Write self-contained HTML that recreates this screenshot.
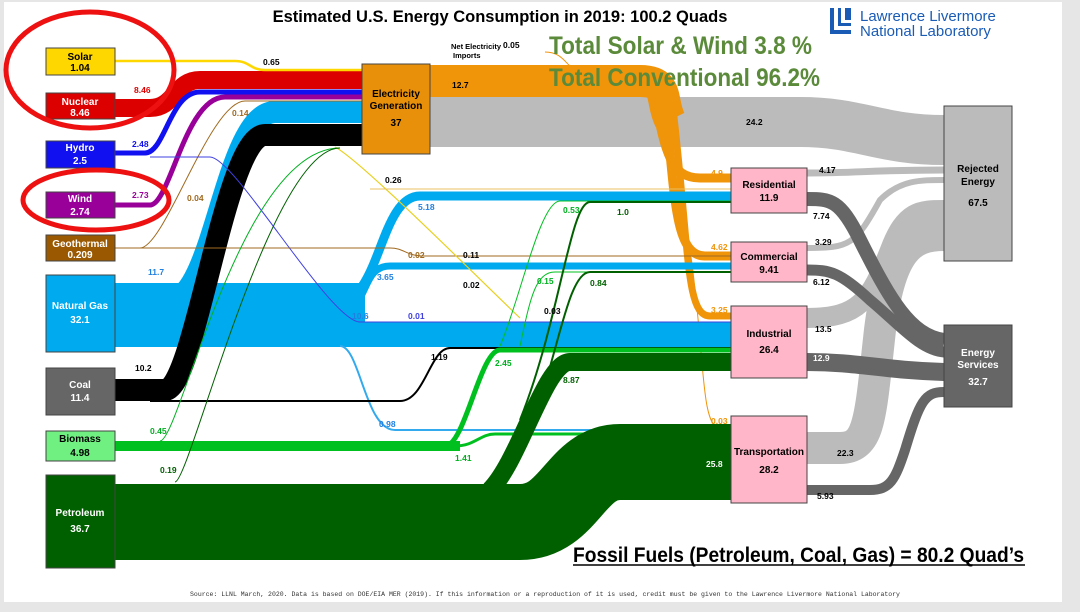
<!DOCTYPE html>
<html><head><meta charset="utf-8"><style>
body{margin:0;background:#e6e6e6;}
svg{display:block;font-family:"Liberation Sans",Arial,sans-serif;}
</style></head><body>
<svg width="1080" height="612" viewBox="0 0 1080 612" xmlns="http://www.w3.org/2000/svg">
<rect x="0" y="0" width="1080" height="612" fill="#e6e6e6"/>
<rect x="4" y="2" width="1058" height="600" fill="#fff"/>

<!-- gray flows to rejected -->
<path d="M430,122 L800,122 C860,122 880,140 944,140" stroke="#bbb" stroke-width="50" fill="none"/>
<path d="M807,173 C860,173 870,170 944,170" stroke="#bbb" stroke-width="7" fill="none"/>
<path d="M807,248 C850,248 855,245 880,200 C900,180 920,180 944,180" stroke="#bbb" stroke-width="6" fill="none"/>
<path d="M807,318 C860,318 870,300 890,250 C905,210 920,210 944,210" stroke="#bbb" stroke-width="20" fill="none"/>
<path d="M807,448 L840,448 C870,448 870,420 880,330 C890,250 910,235 944,235" stroke="#bbb" stroke-width="32" fill="none"/>
<!-- dark gray to services -->
<path d="M807,199 C830,199 840,199 860,240 C890,300 910,335 944,340" stroke="#666" stroke-width="14" fill="none"/>
<path d="M807,270 C830,270 840,272 870,300 C900,325 920,350 944,352" stroke="#666" stroke-width="11" fill="none"/>
<path d="M807,362 C860,362 880,370 944,372" stroke="#666" stroke-width="18" fill="none"/>
<path d="M807,490 L870,490 C890,490 895,480 905,450 C920,400 925,392 944,392" stroke="#666" stroke-width="10" fill="none"/>

<!-- electricity outputs orange -->
<path d="M430,81 L640,81 C670,81 660,100 670,120" stroke="#f0940a" stroke-width="32" fill="none"/>
<path d="M655,100 C665,150 670,178 700,178 L731,178" stroke="#f0940a" stroke-width="9" fill="none"/>
<path d="M665,100 C675,200 675,256 705,256 L731,256" stroke="#f0940a" stroke-width="9" fill="none"/>
<path d="M672,100 C690,250 685,316 710,316 L731,316" stroke="#f0940a" stroke-width="7" fill="none"/>
<path d="M690,250 C705,350 700,428 720,428 L731,428" stroke="#f0940a" stroke-width="1" fill="none"/>
<path d="M545,52 C560,52 565,62 570,66" stroke="#f0940a" stroke-width="1" fill="none"/>

<!-- natural gas -->
<path d="M115,300 L170,300 C215,300 225,112 275,112 L362,112" stroke="#00aaee" stroke-width="22" fill="none"/>
<path d="M340,300 C380,300 380,196 420,196 L731,196" stroke="#00aaee" stroke-width="9" fill="none"/>
<path d="M340,310 C370,310 360,266 390,266 L731,266" stroke="#00aaee" stroke-width="7" fill="none"/>
<rect x="115" y="283" width="250" height="64" fill="#00aaee"/>
<rect x="340" y="322" width="391" height="25" fill="#00aaee"/>
<path d="M340,346 C360,346 365,430 395,430 L731,430" stroke="#33aaee" stroke-width="2" fill="none"/>

<!-- coal -->
<path d="M115,390 L165,390 C195,390 225,135 265,135 L362,135" stroke="#000" stroke-width="22" fill="none"/>
<path d="M150,401 L400,401 C425,401 430,348 450,348 L731,348" stroke="#000" stroke-width="2" fill="none"/>

<!-- nuclear, hydro, wind, solar, geo -->
<path d="M115,108 L150,108 C175,108 175,80 200,80 L362,80" stroke="#dd0000" stroke-width="18" fill="none"/>
<path d="M115,153 L145,153 C165,153 170,92 200,92 L362,92" stroke="#1010f0" stroke-width="5" fill="none"/>
<path d="M115,205 L150,205 C170,205 185,97 225,97 L362,97" stroke="#990099" stroke-width="5" fill="none"/>
<path d="M115,61 L235,61 C250,61 250,70 265,70 L362,70" stroke="#ffd700" stroke-width="2.5" fill="none"/>
<path d="M115,248 L140,248 C165,248 210,101 245,101 L362,101" stroke="#a06a20" stroke-width="1" fill="none"/>
<path d="M115,248 L390,248 C405,248 405,256 425,256 L731,256" stroke="#a06a20" stroke-width="1" fill="none"/>
<path d="M150,157 L210,157 C235,157 330,322 360,322 L731,322" stroke="#4040e0" stroke-width="1" fill="none"/>
<path d="M335,147 C360,160 470,270 520,318" stroke="#e8d020" stroke-width="1.2" fill="none"/>
<path d="M370,189 L731,189" stroke="#e8c060" stroke-width="1" fill="none"/>

<!-- biomass -->
<path d="M115,446 L445,446 C465,446 480,350 500,350 L731,350" stroke="#00c020" stroke-width="5" fill="none"/>
<rect x="115" y="441" width="345" height="10" fill="#00c020"/>
<path d="M455,446 C475,446 480,434 495,434 L731,434" stroke="#00c020" stroke-width="3" fill="none"/>
<path d="M160,441 C180,441 240,148 340,148" stroke="#00b020" stroke-width="1" fill="none"/>
<path d="M500,346 C520,300 540,201 560,201 L731,201" stroke="#00c020" stroke-width="1" fill="none"/>
<path d="M520,346 C530,300 535,272 555,272 L731,272" stroke="#00c020" stroke-width="1" fill="none"/>

<!-- petroleum -->
<path d="M115,522 L520,522 C570,522 575,462 620,462 L731,462" stroke="#006000" stroke-width="76" fill="none"/>
<path d="M490,490 C520,460 545,362 570,362 L731,362" stroke="#006000" stroke-width="18" fill="none"/>
<path d="M175,482 C190,482 270,148 340,148" stroke="#006000" stroke-width="1" fill="none"/>
<path d="M520,420 C560,320 570,202 590,202 L731,202" stroke="#006000" stroke-width="2" fill="none"/>
<path d="M540,400 C560,340 570,272 590,272 L731,272" stroke="#006000" stroke-width="2" fill="none"/>

<!-- boxes -->
<g stroke="#444" stroke-width="1">
<rect x="46" y="48" width="69" height="27" fill="#ffd700"/>
<rect x="46" y="93" width="69" height="26" fill="#dd0000"/>
<rect x="46" y="141" width="69" height="27" fill="#1010f0"/>
<rect x="46" y="192" width="69" height="26" fill="#990099"/>
<rect x="46" y="235" width="69" height="26" fill="#9a5800"/>
<rect x="46" y="275" width="69" height="77" fill="#00aaee"/>
<rect x="46" y="368" width="69" height="47" fill="#666"/>
<rect x="46" y="431" width="69" height="30" fill="#70f080"/>
<rect x="46" y="475" width="69" height="93" fill="#006000"/>
<rect x="362" y="64" width="68" height="90" fill="#e8900a"/>
<rect x="731" y="168" width="76" height="45" fill="#ffb6c8"/>
<rect x="731" y="242" width="76" height="40" fill="#ffb6c8"/>
<rect x="731" y="306" width="76" height="72" fill="#ffb6c8"/>
<rect x="731" y="416" width="76" height="87" fill="#ffb6c8"/>
<rect x="944" y="106" width="68" height="155" fill="#bbb"/>
<rect x="944" y="325" width="68" height="82" fill="#666"/>
</g>

<g font-size="10" font-weight="bold" text-anchor="middle">
<text x="80" y="60">Solar</text><text x="80" y="71">1.04</text>
<text x="80" y="105" fill="#fff">Nuclear</text><text x="80" y="116" fill="#fff">8.46</text>
<text x="80" y="151" fill="#fff">Hydro</text><text x="80" y="164" fill="#fff">2.5</text>
<text x="80" y="202" fill="#fff">Wind</text><text x="80" y="215" fill="#fff">2.74</text>
<text x="80" y="247" fill="#fff">Geothermal</text><text x="80" y="258" fill="#fff">0.209</text>
<text x="80" y="309" fill="#fff">Natural Gas</text><text x="80" y="323" fill="#fff">32.1</text>
<text x="80" y="388" fill="#fff">Coal</text><text x="80" y="401" fill="#fff">11.4</text>
<text x="80" y="442">Biomass</text><text x="80" y="456">4.98</text>
<text x="80" y="516" fill="#fff">Petroleum</text><text x="80" y="532" fill="#fff">36.7</text>
<text x="396" y="97">Electricity</text><text x="396" y="109">Generation</text><text x="396" y="126">37</text>
<text x="769" y="188">Residential</text><text x="769" y="201">11.9</text>
<text x="769" y="260">Commercial</text><text x="769" y="273">9.41</text>
<text x="769" y="337">Industrial</text><text x="769" y="353">26.4</text>
<text x="769" y="455">Transportation</text><text x="769" y="473">28.2</text>
<text x="978" y="172">Rejected</text><text x="978" y="185">Energy</text><text x="978" y="206">67.5</text>
<text x="978" y="356" fill="#fff">Energy</text><text x="978" y="368" fill="#fff">Services</text><text x="978" y="385" fill="#fff">32.7</text>
</g>

<g font-size="8.5" font-weight="bold">
<text x="263" y="65">0.65</text>
<text x="134" y="93" fill="#dd0000">8.46</text>
<text x="132" y="147" fill="#1010f0">2.48</text>
<text x="132" y="198" fill="#990099">2.73</text>
<text x="232" y="116" fill="#a06a20">0.14</text>
<text x="187" y="201" fill="#a06a20">0.04</text>
<text x="148" y="275" fill="#2080e0">11.7</text>
<text x="135" y="371">10.2</text>
<text x="150" y="434" fill="#00b020">0.45</text>
<text x="160" y="473" fill="#006000">0.19</text>
<text x="451" y="49" font-size="7.5">Net Electricity</text>
<text x="453" y="58" font-size="7.5">Imports</text>
<text x="503" y="48">0.05</text>
<text x="452" y="88">12.7</text>
<text x="746" y="125">24.2</text>
<text x="385" y="183">0.26</text>
<text x="418" y="210" fill="#2080e0">5.18</text>
<text x="408" y="258" fill="#a06a20">0.02</text>
<text x="463" y="258">0.11</text>
<text x="377" y="280" fill="#2080e0">3.65</text>
<text x="463" y="288">0.02</text>
<text x="352" y="319" fill="#2080e0">10.6</text>
<text x="408" y="319" fill="#4040e0">0.01</text>
<text x="544" y="314">0.03</text>
<text x="431" y="360">1.19</text>
<text x="379" y="427" fill="#2080e0">0.98</text>
<text x="455" y="461" fill="#00b020">1.41</text>
<text x="495" y="366" fill="#00b020">2.45</text>
<text x="563" y="383" fill="#006000">8.87</text>
<text x="563" y="213" fill="#00b020">0.53</text>
<text x="617" y="215" fill="#006000">1.0</text>
<text x="537" y="284" fill="#00b020">0.15</text>
<text x="590" y="286" fill="#006000">0.84</text>
<text x="711" y="176" fill="#f0940a">4.9</text>
<text x="711" y="250" fill="#f0940a">4.62</text>
<text x="711" y="313" fill="#f0940a">3.25</text>
<text x="711" y="424" fill="#f0940a">0.03</text>
<text x="706" y="467" fill="#fff">25.8</text>
<text x="819" y="173">4.17</text>
<text x="813" y="219">7.74</text>
<text x="815" y="245">3.29</text>
<text x="813" y="285">6.12</text>
<text x="815" y="332">13.5</text>
<text x="813" y="361" fill="#fff">12.9</text>
<text x="837" y="456">22.3</text>
<text x="817" y="499">5.93</text>
</g>

<text x="500" y="22" font-size="16.5" font-weight="bold" text-anchor="middle">Estimated U.S. Energy Consumption in 2019: 100.2 Quads</text>
<g font-weight="bold" fill="#5a8a3a" font-size="25">
<text x="549" y="54" textLength="263" lengthAdjust="spacingAndGlyphs">Total Solar &amp; Wind 3.8 %</text>
<text x="549" y="86" textLength="271" lengthAdjust="spacingAndGlyphs">Total Conventional 96.2%</text>
</g>
<g fill="#1a5bb5">
<rect x="830" y="8" width="4" height="26"/><rect x="834" y="30" width="17" height="4"/>
<rect x="838" y="8" width="3" height="18"/><rect x="841" y="23" width="10" height="3"/>
<rect x="845" y="8" width="6" height="12"/>
<text x="860" y="21" font-size="15">Lawrence Livermore</text>
<text x="860" y="36" font-size="15">National Laboratory</text>
</g>

<ellipse cx="90" cy="70" rx="84" ry="58" fill="none" stroke="#ee1111" stroke-width="5"/>
<ellipse cx="96" cy="200" rx="73" ry="30" fill="none" stroke="#ee1111" stroke-width="5"/>

<text x="573" y="562" font-size="21" font-weight="bold" textLength="451" lengthAdjust="spacingAndGlyphs">Fossil Fuels (Petroleum, Coal, Gas) = 80.2 Quad’s</text>
<line x1="573" y1="565" x2="1025" y2="565" stroke="#000" stroke-width="1.5"/>
<text x="545" y="596" font-size="6.5" font-family="'Liberation Mono',monospace" text-anchor="middle" fill="#333">Source: LLNL March, 2020. Data is based on DOE/EIA MER (2019). If this information or a reproduction of it is used, credit must be given to the Lawrence Livermore National Laboratory</text>
</svg>
</body></html>
